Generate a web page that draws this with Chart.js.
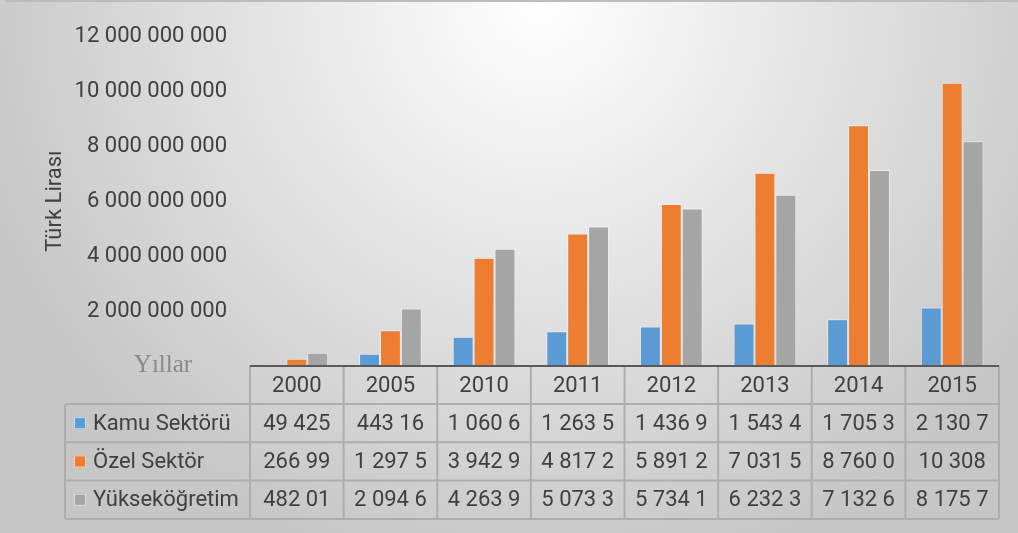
<!DOCTYPE html>
<html lang="tr">
<head>
<meta charset="utf-8">
<script src="https://cdn.jsdelivr.net/npm/chart.js@4.4.1/dist/chart.umd.min.js"></script>
<style>
  html, body { margin: 0; padding: 0; background: #fff; }
  canvas { display: block; }
</style>
</head>
<body>
<canvas id="harcamaChart" width="1018" height="533"></canvas>
<script>
// Ar-Ge harcamaları, sektörlere göre (TL)
const years = ["2000", "2005", "2010", "2011", "2012", "2013", "2014", "2015"];
const seriesNames = ["Kamu Sektörü", "Özel Sektör", "Yükseköğretim"];
const kamu = [49425000, 443160000, 1060600000, 1263500000, 1436900000, 1543400000, 1705300000, 2130700000];
const ozel = [266990000, 1297500000, 3942900000, 4817200000, 5891200000, 7031500000, 8760000000, 10308000000];
const yuksek = [482010000, 2094600000, 4263900000, 5073300000, 5734100000, 6232300000, 7132600000, 8175700000];
const yMax = 12000000000;
const yStep = 2000000000;
const colors = ["#5b9bd5", "#ed7d31", "#a5a5a5"];

const FONT = "Roboto, 'Open Sans', sans-serif";
const FONT_SIZE = 22;
const TEXT = "#404040";

function groupDigits(v) {
  return Math.round(v).toString().replace(/\B(?=(\d{3})+(?!\d))/g, " ");
}

// table cells are clipped at whole characters, like the spreadsheet does
function fitText(ctx, text, maxW) {
  let s = text;
  while (s.length && ctx.measureText(s).width > maxW) s = s.slice(0, -1);
  return s.trimEnd();
}

const backgroundPlugin = {
  id: "background",
  beforeDraw(chart) {
    const { ctx, width, height } = chart;
    ctx.save();
    const g = ctx.createRadialGradient(540, 0, 0, 540, 0, 590);
    g.addColorStop(0, "#ffffff");
    g.addColorStop(1, "#c6c6c6");
    ctx.fillStyle = g;
    ctx.fillRect(0, 0, width, height);
    ctx.strokeStyle = "#bcbcbc";
    ctx.lineWidth = 2;
    ctx.beginPath();
    ctx.moveTo(5, 1);
    ctx.lineTo(width, 1);
    ctx.stroke();
    ctx.restore();
  }
};

const dataTablePlugin = {
  id: "dataTable",
  afterDraw(chart) {
    const { ctx, chartArea: area } = chart;
    const colW = (area.right - area.left) / years.length;
    const top = area.bottom;
    const headerH = 38;
    const rowH = 38.3;
    const legendLeft = 65;
    const bottom = top + headerH + rowH * seriesNames.length;
    const rows = [kamu, ozel, yuksek];

    ctx.save();
    // grid
    ctx.strokeStyle = "#adadad";
    ctx.lineWidth = 2;
    ctx.beginPath();
    for (let i = 0; i <= years.length; i++) {
      const x = area.left + i * colW;
      ctx.moveTo(x, top);
      ctx.lineTo(x, bottom);
    }
    for (let k = 0; k <= seriesNames.length; k++) {
      const y = top + headerH + k * rowH;
      ctx.moveTo(legendLeft, y);
      ctx.lineTo(area.right, y);
    }
    ctx.moveTo(legendLeft, top + headerH);
    ctx.lineTo(legendLeft, bottom);
    ctx.stroke();

    ctx.font = FONT_SIZE + "px " + FONT;
    ctx.fillStyle = TEXT;
    ctx.textBaseline = "middle";

    // year header
    ctx.textAlign = "center";
    years.forEach((yr, i) => {
      ctx.fillText(yr, area.left + (i + 0.5) * colW, top + headerH / 2 + 1);
    });

    // series rows
    rows.forEach((vals, k) => {
      const cy = top + headerH + (k + 0.5) * rowH + 1;
      ctx.textAlign = "center";
      vals.forEach((v, i) => {
        const txt = fitText(ctx, groupDigits(v), colW - 17);
        ctx.fillText(txt, area.left + (i + 0.5) * colW, cy);
      });
      // legend key
      ctx.fillStyle = colors[k];
      ctx.fillRect(74, cy - 7, 12, 12);
      ctx.strokeStyle = "rgba(255,255,255,0.6)";
      ctx.lineWidth = 1;
      ctx.strokeRect(74.5, cy - 6.5, 11, 11);
      ctx.fillStyle = TEXT;
      ctx.textAlign = "left";
      ctx.fillText(seriesNames[k], 93, cy);
    });

    // horizontal axis line
    ctx.strokeStyle = "#595959";
    ctx.lineWidth = 2;
    ctx.beginPath();
    ctx.moveTo(area.left, top);
    ctx.lineTo(area.right, top);
    ctx.stroke();

    // horizontal axis title
    ctx.font = "25px 'Liberation Serif', 'Times New Roman', serif";
    ctx.fillStyle = "#8a8a8a";
    ctx.textAlign = "center";
    ctx.fillText("Yıllar", 163, top - 1);
    ctx.restore();
  }
};

const ctx = document.getElementById("harcamaChart").getContext("2d");
new Chart(ctx, {
  type: "bar",
  data: {
    labels: years,
    datasets: [kamu, ozel, yuksek].map((vals, k) => ({
      label: seriesNames[k],
      data: vals,
      backgroundColor: colors[k],
      borderColor: "rgba(255,255,255,0.45)",
      borderWidth: 1,
      categoryPercentage: 0.67,
      barPercentage: 1
    }))
  },
  options: {
    responsive: false,
    devicePixelRatio: 1,
    animation: false,
    layout: {
      padding: { top: 29, right: 19, bottom: 167, left: 0 }
    },
    plugins: {
      legend: { display: false },
      tooltip: { enabled: false }
    },
    scales: {
      x: { display: false },
      y: {
        min: 0,
        max: yMax,
        grid: { display: false, drawTicks: false },
        border: { display: false },
        ticks: {
          stepSize: yStep,
          padding: 23,
          color: TEXT,
          font: { family: FONT, size: FONT_SIZE },
          callback: v => (v === 0 ? "" : groupDigits(v))
        },
        title: {
          display: true,
          text: "Türk Lirası",
          color: TEXT,
          font: { family: FONT, size: FONT_SIZE },
          padding: { top: 42, bottom: 0 }
        },
        afterFit(scale) {
          scale.width = 250;
        }
      }
    }
  },
  plugins: [backgroundPlugin, dataTablePlugin]
});
</script>
</body>
</html>
